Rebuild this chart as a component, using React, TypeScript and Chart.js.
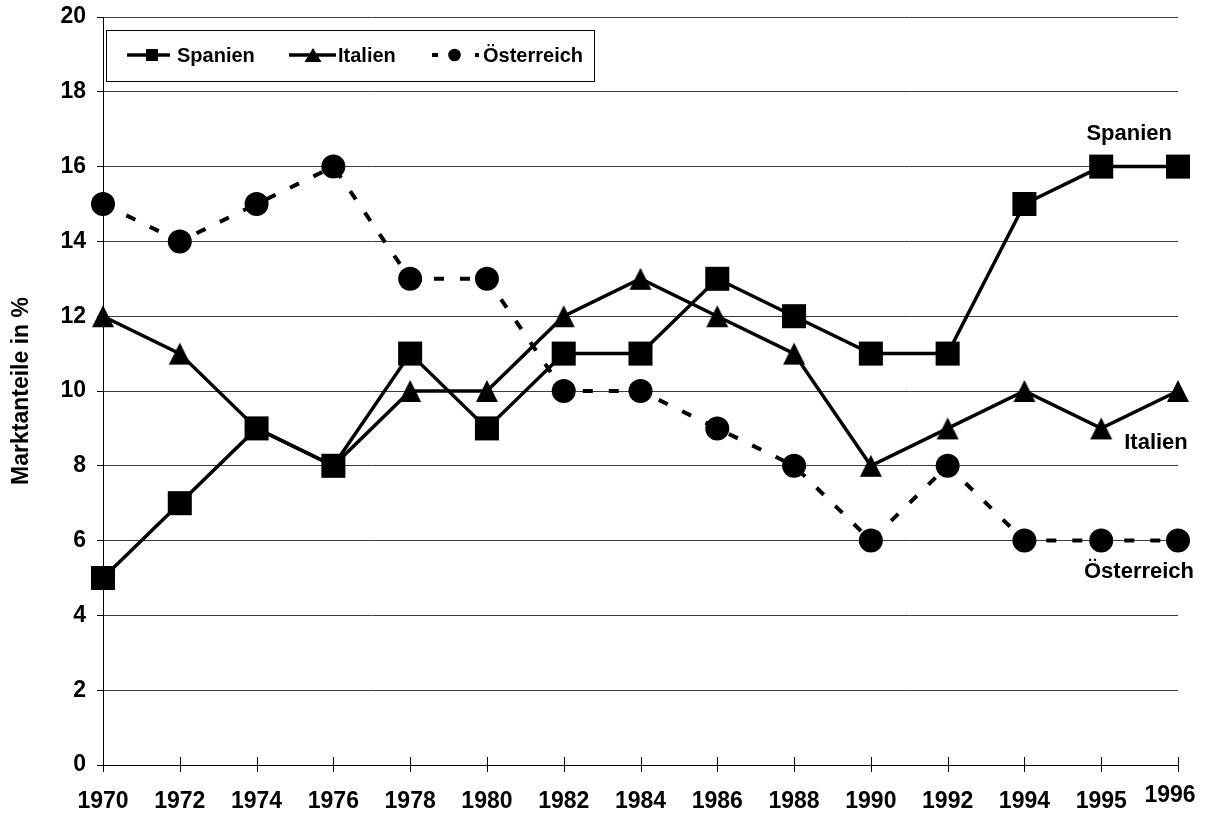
import React, { useEffect, useRef } from 'react';
import { Chart, registerables } from 'chart.js';

Chart.register(...registerables);

const years = ['1970', '1972', '1974', '1976', '1978', '1980', '1982', '1984', '1986', '1988', '1990', '1992', '1994', '1995', '1996'];
const spanien = [5, 7, 9, 8, 11, 9, 11, 11, 13, 12, 11, 11, 15, 16, 16];
const italien = [12, 11, 9, 8, 10, 10, 12, 13, 12, 11, 8, 9, 10, 9, 10];
const oesterreich = [15, 14, 15, 16, 13, 13, 10, 10, 9, 8, 6, 8, 6, 6, 6];
const seriesNames = ['Spanien', 'Italien', 'Österreich'];
const yAxisTitle = 'Marktanteile in %';

const FONT = "'Liberation Sans', Arial, Helvetica, sans-serif";

function makeTriangle(): HTMLCanvasElement {
  const c = document.createElement('canvas');
  c.width = 24;
  c.height = 24;
  const g = c.getContext('2d')!;
  g.fillStyle = '#000';
  g.beginPath();
  g.moveTo(12, 1);
  g.lineTo(23, 23);
  g.lineTo(1, 23);
  g.closePath();
  g.fill();
  return c;
}

const decorPlugin = {
  id: 'decor',
  afterDraw(chart: any) {
    const ctx: CanvasRenderingContext2D = chart.ctx;
    const x = chart.scales.x;
    const y = chart.scales.y;
    const bottom = chart.chartArea.bottom;
    ctx.save();
    // x ticks crossing the axis
    ctx.strokeStyle = '#000';
    ctx.lineWidth = 1;
    years.forEach((_, i) => {
      const px = Math.round(x.getPixelForValue(i)) + 0.5;
      ctx.beginPath();
      ctx.moveTo(px, bottom - 8);
      ctx.lineTo(px, bottom + 7);
      ctx.stroke();
    });
    // x labels
    ctx.fillStyle = '#000';
    ctx.font = `bold 23px ${FONT}`;
    ctx.textAlign = 'center';
    ctx.textBaseline = 'alphabetic';
    years.forEach((lab, i) => {
      const px = x.getPixelForValue(i);
      const last = i === years.length - 1;
      ctx.fillText(lab, px + (last ? -8 : 0), bottom + (last ? 37 : 43));
    });
    // end labels
    ctx.font = `bold 22px ${FONT}`;
    const n = years.length - 1;
    ctx.fillText(seriesNames[0], x.getPixelForValue(n - 1) + 28, y.getPixelForValue(spanien[n]) - 27);
    ctx.fillText(seriesNames[1], x.getPixelForValue(n) - 22, y.getPixelForValue(italien[n - 1]) + 21);
    ctx.fillText(seriesNames[2], x.getPixelForValue(n) - 39, y.getPixelForValue(oesterreich[n]) + 37);

    // legend
    const lx = chart.chartArea.left + 3;
    const ly = chart.chartArea.top + 13;
    ctx.fillStyle = '#fff';
    ctx.fillRect(lx, ly, 488, 51);
    ctx.strokeStyle = '#000';
    ctx.lineWidth = 1;
    ctx.strokeRect(lx + 0.5, ly + 0.5, 488, 51);
    const cy = ly + 25;
    ctx.fillStyle = '#000';
    ctx.lineWidth = 3.5;
    // Spanien
    ctx.beginPath();
    ctx.moveTo(lx + 21, cy);
    ctx.lineTo(lx + 64, cy);
    ctx.stroke();
    ctx.fillRect(lx + 40, cy - 6, 12, 12);
    // Italien
    ctx.beginPath();
    ctx.moveTo(lx + 183, cy);
    ctx.lineTo(lx + 230, cy);
    ctx.stroke();
    ctx.beginPath();
    ctx.moveTo(lx + 207, cy - 7);
    ctx.lineTo(lx + 215.5, cy + 7);
    ctx.lineTo(lx + 198.5, cy + 7);
    ctx.closePath();
    ctx.fill();
    // Österreich
    ctx.fillRect(lx + 326, cy - 2, 6, 4);
    ctx.beginPath();
    ctx.arc(lx + 348.5, cy, 6.3, 0, Math.PI * 2);
    ctx.fill();
    ctx.fillRect(lx + 369, cy - 2, 4, 4);
    ctx.font = `bold 20px ${FONT}`;
    ctx.textAlign = 'left';
    ctx.textBaseline = 'middle';
    ctx.fillText(seriesNames[0], lx + 71, cy + 1);
    ctx.fillText(seriesNames[1], lx + 232, cy + 1);
    ctx.fillText(seriesNames[2], lx + 377, cy + 1);
    ctx.restore();
  },
};

export default function App() {
  const ref = useRef<HTMLCanvasElement | null>(null);

  useEffect(() => {
    if (!ref.current) return;
    Chart.defaults.font.family = FONT;
    const tri = makeTriangle();
    const chart = new Chart(ref.current, {
      type: 'line',
      data: {
        labels: years,
        datasets: [
          {
            label: seriesNames[0],
            data: spanien,
            borderColor: '#000',
            backgroundColor: '#000',
            borderWidth: 3.5,
            pointStyle: 'rect',
            pointRadius: 17,
            pointBackgroundColor: '#000',
            pointBorderWidth: 0,
            tension: 0,
            fill: false,
            clip: false as any,
          },
          {
            label: seriesNames[1],
            data: italien,
            borderColor: '#000',
            backgroundColor: '#000',
            borderWidth: 3.5,
            pointStyle: tri as any,
            pointRadius: 12,
            pointBackgroundColor: '#000',
            pointBorderWidth: 0,
            tension: 0,
            fill: false,
            clip: false as any,
          },
          {
            label: seriesNames[2],
            data: oesterreich,
            borderColor: '#000',
            backgroundColor: '#000',
            borderWidth: 4,
            borderDash: [10, 16],
            pointStyle: 'circle',
            pointRadius: 12,
            pointBackgroundColor: '#000',
            pointBorderWidth: 0,
            tension: 0,
            fill: false,
            clip: false as any,
          },
        ],
      },
      options: {
        responsive: false,
        animation: false,
        events: [],
        layout: { padding: { top: 15, right: 28, left: 0, bottom: 0 } },
        plugins: {
          legend: { display: false },
          tooltip: { enabled: false },
          title: { display: false },
        },
        scales: {
          x: {
            type: 'category',
            offset: false,
            grid: { display: false },
            ticks: { display: false },
            border: { display: true, color: '#000', width: 1 },
            afterFit: (s: any) => {
              s.height = 49;
              s.paddingLeft = 0;
              s.paddingRight = 0;
            },
          },
          y: {
            min: 0,
            max: 20,
            ticks: {
              stepSize: 2,
              color: '#000',
              padding: 11,
              font: { size: 23, weight: 'bold', family: FONT },
            },
            grid: {
              color: '#3a3a3a',
              lineWidth: 1,
              drawTicks: true,
              tickLength: 6,
              tickColor: '#000',
            },
            border: { display: true, color: '#000', width: 1 },
            title: {
              display: true,
              text: yAxisTitle,
              color: '#000',
              font: { size: 23, weight: 'bold', family: FONT, lineHeight: 1 },
              padding: { top: 10, bottom: 0 },
            },
            afterFit: (s: any) => {
              s.width = 103;
              s.paddingTop = 0;
              s.paddingBottom = 0;
            },
          },
        },
      },
      plugins: [decorPlugin],
    });
    return () => chart.destroy();
  }, []);

  return (
    <div style={{ position: 'fixed', left: 0, top: 0, width: 1206, height: 814, background: '#fff' }}>
      <canvas ref={ref} width={1206} height={814} style={{ display: 'block' }} />
    </div>
  );
}
